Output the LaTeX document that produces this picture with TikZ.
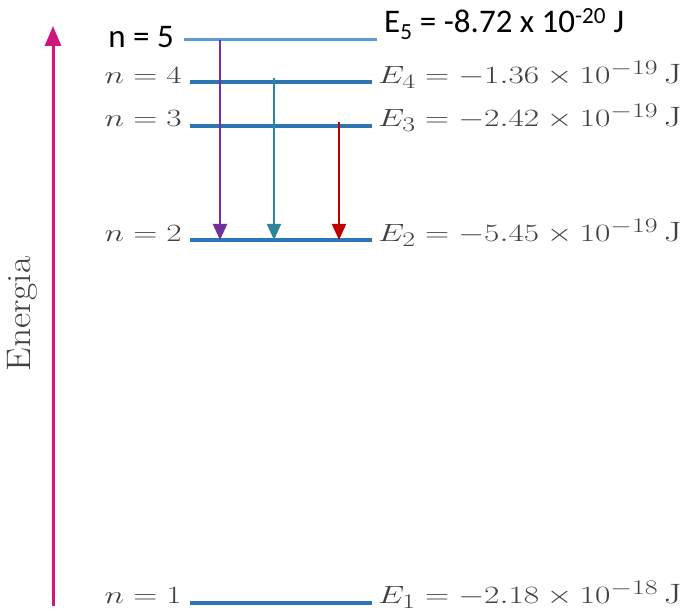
\documentclass[tikz,border=0pt]{standalone}
\usepackage{fontspec}
\newfontfamily\calib{Carlito}
\usetikzlibrary{arrows.meta}
\definecolor{lvl}{HTML}{2E75B6}
\definecolor{lvlfive}{HTML}{5B9BD5}
\definecolor{txtgray}{HTML}{404040}
\definecolor{mag}{HTML}{D0167E}
\definecolor{purp}{HTML}{7030A0}
\definecolor{teal2}{HTML}{31849B}
\definecolor{red2}{HTML}{C00000}
\newcommand{\wide}[1]{\scalebox{1.34}[1]{#1}}
\begin{document}
\begin{tikzpicture}[x=1pt,y=-1pt,
  level/.style={draw=lvl,line width=4pt},
  nlab/.style={anchor=base east,inner sep=0pt,text=txtgray,font=\fontsize{28}{32}\selectfont},
  elab/.style={anchor=base west,inner sep=0pt,text=txtgray,font=\fontsize{28}{32}\selectfont},
  trans/.style={line width=2pt,-{Triangle[width=14pt,length=16pt]}}]
\useasboundingbox (0,0) rectangle (689,612);
% levels
\coordinate (l5a) at (184,40); \coordinate (l5b) at (377,40);
\coordinate (l4a) at (190,82); \coordinate (l4b) at (372,82);
\coordinate (l3a) at (190,126); \coordinate (l3b) at (372,126);
\coordinate (l2a) at (190,240); \coordinate (l2b) at (372,240);
\coordinate (l1a) at (190,603); \coordinate (l1b) at (372,603);
\draw[draw=lvlfive,line width=3pt] (l5a) -- (l5b);
\draw[level] (l4a) -- (l4b);
\draw[level] (l3a) -- (l3b);
\draw[level] (l2a) -- (l2b);
\draw[level] (l1a) -- (l1b);
% labels left
\node[anchor=base east,inner sep=0pt,font=\calib\fontsize{33}{38}\selectfont] (n5) at (174,48) {n = 5};
\node[nlab] (n4) at (182,84) {\wide{$n = 4$}};
\node[nlab] (n3) at (182,127) {\wide{$n = 3$}};
\node[nlab] (n2) at (182,242) {\wide{$n = 2$}};
\node[nlab] (n1) at (182,604) {\wide{$n = 1$}};
% labels right
\node[anchor=base west,inner sep=0pt,font=\calib\fontsize{33}{38}\selectfont] (e5) at (384,33) {E\textsubscript{5} = -8.72 x 10\textsuperscript{-20} J};
\node[elab] (e4) at (378,84) {\wide{$E_4 = -1.36 \times 10^{-19}\,$J}};
\node[elab] (e3) at (378,127) {\wide{$E_3 = -2.42 \times 10^{-19}\,$J}};
\node[elab] (e2) at (378,242) {\wide{$E_2 = -5.45 \times 10^{-19}\,$J}};
\node[elab] (e1) at (378,604) {\wide{$E_1 = -2.18 \times 10^{-18}\,$J}};
% transitions
\coordinate (p5) at (220,40); \coordinate (p2a) at (220,240);
\coordinate (t4) at (274,78); \coordinate (p2b) at (274,240);
\coordinate (r3) at (339,122); \coordinate (p2c) at (339,240);
\draw[trans,purp] (p5) -- (p2a);
\draw[trans,teal2] (t4) -- (p2b);
\draw[trans,red2] (r3) -- (p2c);
% energy axis
\coordinate (ax0) at (53,606); \coordinate (ax1) at (53,26);
\draw[mag,line width=3pt,-{Triangle[width=16pt,length=20pt]}] (ax0) -- (ax1);
\node[rotate=90,inner sep=0pt,text=txtgray,font=\fontsize{34}{38}\selectfont] (en) at (22,314) {\scalebox{1.1}[1]{Energia}};
\end{tikzpicture}
\end{document}
